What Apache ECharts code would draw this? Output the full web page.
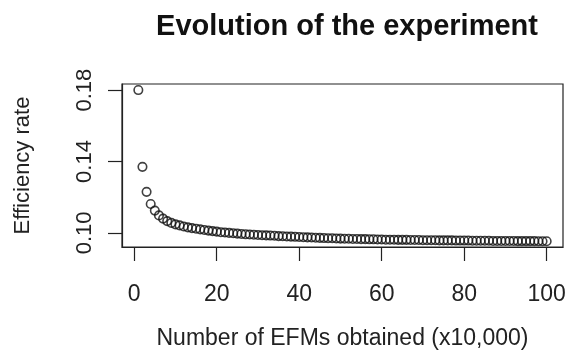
<!DOCTYPE html>
<html>
<head>
<meta charset="utf-8">
<script src="https://cdn.jsdelivr.net/npm/echarts@6/dist/echarts.min.js"></script>
<style>html,body{margin:0;padding:0;background:#fff}#c{width:569px;height:360px}</style>
</head>
<body>
<div id="c"></div>
<script>
const titleText = "Evolution of the experiment";
const xName = "Number of EFMs obtained (x10,000)";
const yName = "Efficiency rate";
const xTicks = [0, 20, 40, 60, 80, 100];
const yTicks = [0.10, 0.14, 0.18];
const efms = [];
for (let i = 1; i <= 100; i++) efms.push(i);
const efficiency = [
  0.1800, 0.1370, 0.1230, 0.1162, 0.1125, 0.1098, 0.1080, 0.1066, 0.1056, 0.1048,
  0.1042, 0.1036, 0.1031, 0.1027, 0.1023, 0.1020, 0.1016, 0.1013, 0.1010, 0.1007,
  0.1004, 0.1002, 0.1000, 0.0998, 0.0996, 0.0994, 0.0992, 0.0991, 0.0990, 0.0988,
  0.0987, 0.0986, 0.0985, 0.0984, 0.0982, 0.0981, 0.0980, 0.0979, 0.0978, 0.0977,
  0.0976, 0.0975, 0.0974, 0.0973, 0.0972, 0.0971, 0.0970, 0.0970, 0.0969, 0.0968,
  0.0967, 0.0967, 0.0966, 0.0966, 0.0965, 0.0965, 0.0964, 0.0964, 0.0963, 0.0963,
  0.0962, 0.0962, 0.0962, 0.0961, 0.0961, 0.0961, 0.0960, 0.0960, 0.0960, 0.0959,
  0.0959, 0.0959, 0.0959, 0.0958, 0.0958, 0.0958, 0.0958, 0.0957, 0.0957, 0.0957,
  0.0957, 0.0956, 0.0956, 0.0956, 0.0956, 0.0956, 0.0955, 0.0955, 0.0955, 0.0955,
  0.0955, 0.0955, 0.0954, 0.0954, 0.0954, 0.0954, 0.0954, 0.0953, 0.0953, 0.0953
];
const points = efms.map((x, i) => [x, efficiency[i]]);

const font = "'Liberation Sans', Arial, sans-serif";
const chart = echarts.init(document.getElementById('c'), null, {renderer: 'canvas'});
chart.setOption({
  animation: false,
  backgroundColor: '#fff',
  title: {
    text: titleText,
    left: 342, top: 7, textAlign: 'center',
    textStyle: {fontFamily: font, fontSize: 29, fontWeight: 'bold', color: '#111'}
  },
  grid: {
    left: 122, right: 6, top: 84, bottom: 113,
    show: true, borderColor: '#222', borderWidth: 1.2, backgroundColor: 'transparent'
  },
  xAxis: {
    type: 'value', min: -2.96, max: 103.96,
    name: xName, nameLocation: 'middle', nameGap: 92,
    nameTextStyle: {fontFamily: font, fontSize: 23, color: '#222', verticalAlign: 'middle'},
    axisLine: {show: true, onZero: false, lineStyle: {color: '#222', width: 1.2}},
    axisTick: {show: true, inside: false, length: 14, customValues: xTicks, lineStyle: {color: '#222', width: 1.2}},
    axisLabel: {show: true, customValues: xTicks, margin: 36, fontFamily: font, fontSize: 23, color: '#222', verticalAlign: 'top'},
    splitLine: {show: false}
  },
  yAxis: {
    type: 'value', min: 0.0921, max: 0.1834,
    name: yName, nameLocation: 'middle', nameGap: 99, nameRotate: 90,
    nameTextStyle: {fontFamily: font, fontSize: 22, color: '#222', verticalAlign: 'middle'},
    axisLine: {show: true, onZero: false, lineStyle: {color: '#222', width: 1.2}},
    axisTick: {show: true, inside: false, length: 14, customValues: yTicks, lineStyle: {color: '#222', width: 1.2}},
    axisLabel: {show: true, customValues: yTicks, rotate: 90, margin: 26, fontFamily: font, fontSize: 22, color: '#222',
      formatter: v => v.toFixed(2)},
    splitLine: {show: false}
  },
  series: [{
    type: 'scatter',
    data: points,
    symbol: 'circle',
    symbolSize: 8.5,
    itemStyle: {color: 'rgba(255,255,255,0)', borderColor: '#111', borderWidth: 1.6}
  }]
});
</script>
</body>
</html>
